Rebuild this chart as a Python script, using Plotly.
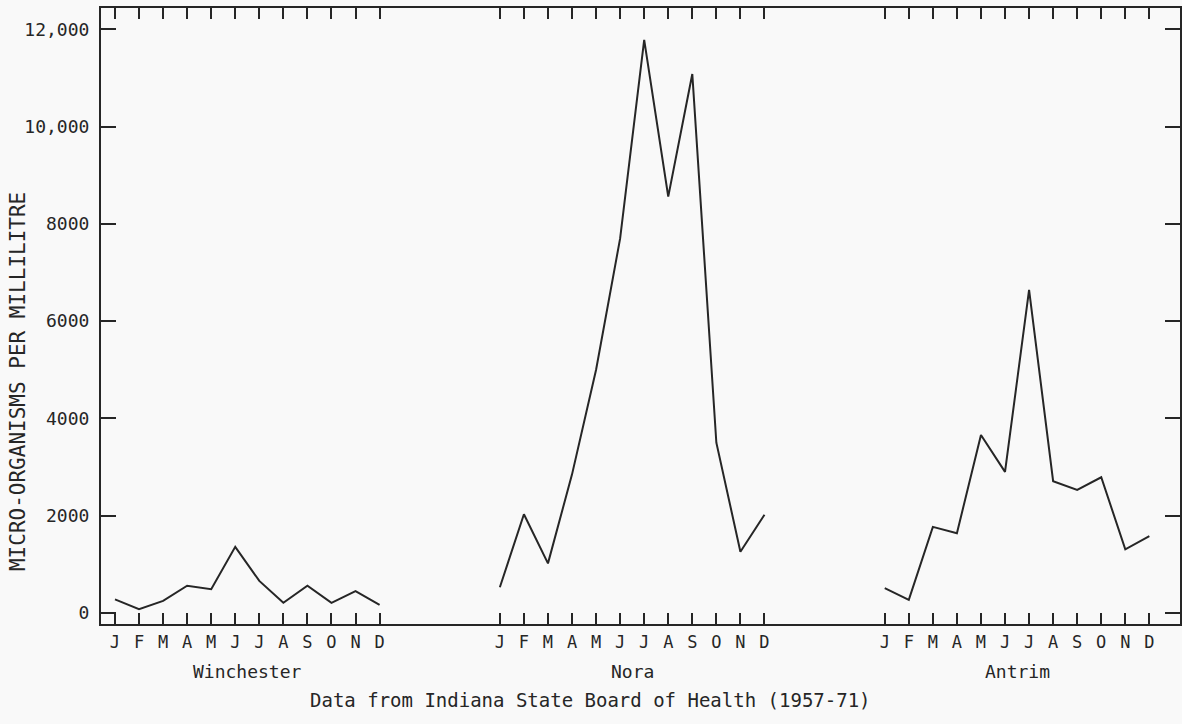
import plotly.graph_objects as go

# Monthly mean micro-organism counts per millilitre, three water supplies
months = ["J", "F", "M", "A", "M", "J", "J", "A", "S", "O", "N", "D"]
sites = ["Winchester", "Nora", "Antrim"]
winchester = [280, 80, 250, 560, 490, 1360, 660, 210, 560, 210, 450, 165]
nora = [530, 2030, 1020, 2850, 5000, 7700, 11780, 8560, 11080, 3500, 1260, 2020]
antrim = [510, 270, 1770, 1640, 3660, 2900, 6640, 2710, 2530, 2790, 1310, 1580]
y_ticks = [0, 2000, 4000, 6000, 8000, 10000, 12000]
y_tick_text = ["0", "2000", "4000", "6000", "8000", "10,000", "12,000"]
caption = "Data from Indiana State Board of Health (1957-71)"
y_title = "MICRO-ORGANISMS PER MILLILITRE"

# each site's twelve months sit side by side, with a gap between sites
offsets = [0, 16, 32]
series = [winchester, nora, antrim]

INK = "#262626"
FONT = "DejaVu Sans Mono"

fig = go.Figure()
tickvals, ticktext = [], []
for off, vals in zip(offsets, series):
    xs = [off + i for i in range(len(months))]
    tickvals += xs
    ticktext += months
    fig.add_trace(go.Scatter(
        x=xs, y=vals, mode="lines",
        line=dict(color=INK, width=2),
        showlegend=False, hoverinfo="skip",
    ))

for off, name in zip(offsets, sites):
    fig.add_annotation(
        x=off + 5.5, xref="x", y=-0.0763, yref="paper",
        text=name, showarrow=False, xanchor="center", yanchor="middle",
        font=dict(family=FONT, size=18, color=INK),
    )

fig.add_annotation(
    x=0.454, xref="paper", y=-0.1234, yref="paper",
    text=caption, showarrow=False, xanchor="center", yanchor="middle",
    font=dict(family=FONT, size=19, color=INK),
)
fig.add_annotation(
    x=-0.0768, xref="paper", y=0.393, yref="paper",
    text=y_title, textangle=-90, showarrow=False,
    xanchor="center", yanchor="middle",
    font=dict(family=FONT, size=21, color=INK),
)

axis_common = dict(
    showline=True, linecolor=INK, linewidth=2, mirror="ticks",
    ticks="inside", tickcolor=INK, tickwidth=2,
    showgrid=False, zeroline=False,
)

fig.update_xaxes(
    range=[-0.581, 44.274], tickmode="array",
    tickvals=tickvals, ticktext=ticktext, ticklen=11,
    tickfont=dict(family=FONT, size=17, color=INK),
    ticklabelstandoff=2,
    **axis_common,
)
fig.update_yaxes(
    range=[-226, 12436], tickmode="array",
    tickvals=y_ticks, ticktext=y_tick_text, ticklen=15,
    tickfont=dict(family=FONT, size=18, color=INK),
    ticklabelstandoff=6,
    **axis_common,
)

fig.update_layout(
    width=1182, height=724, autosize=False,
    margin=dict(l=101, r=0, t=8, b=100),
    paper_bgcolor="#f9f9f9", plot_bgcolor="#f9f9f9",
)

fig.write_html("out.html")
